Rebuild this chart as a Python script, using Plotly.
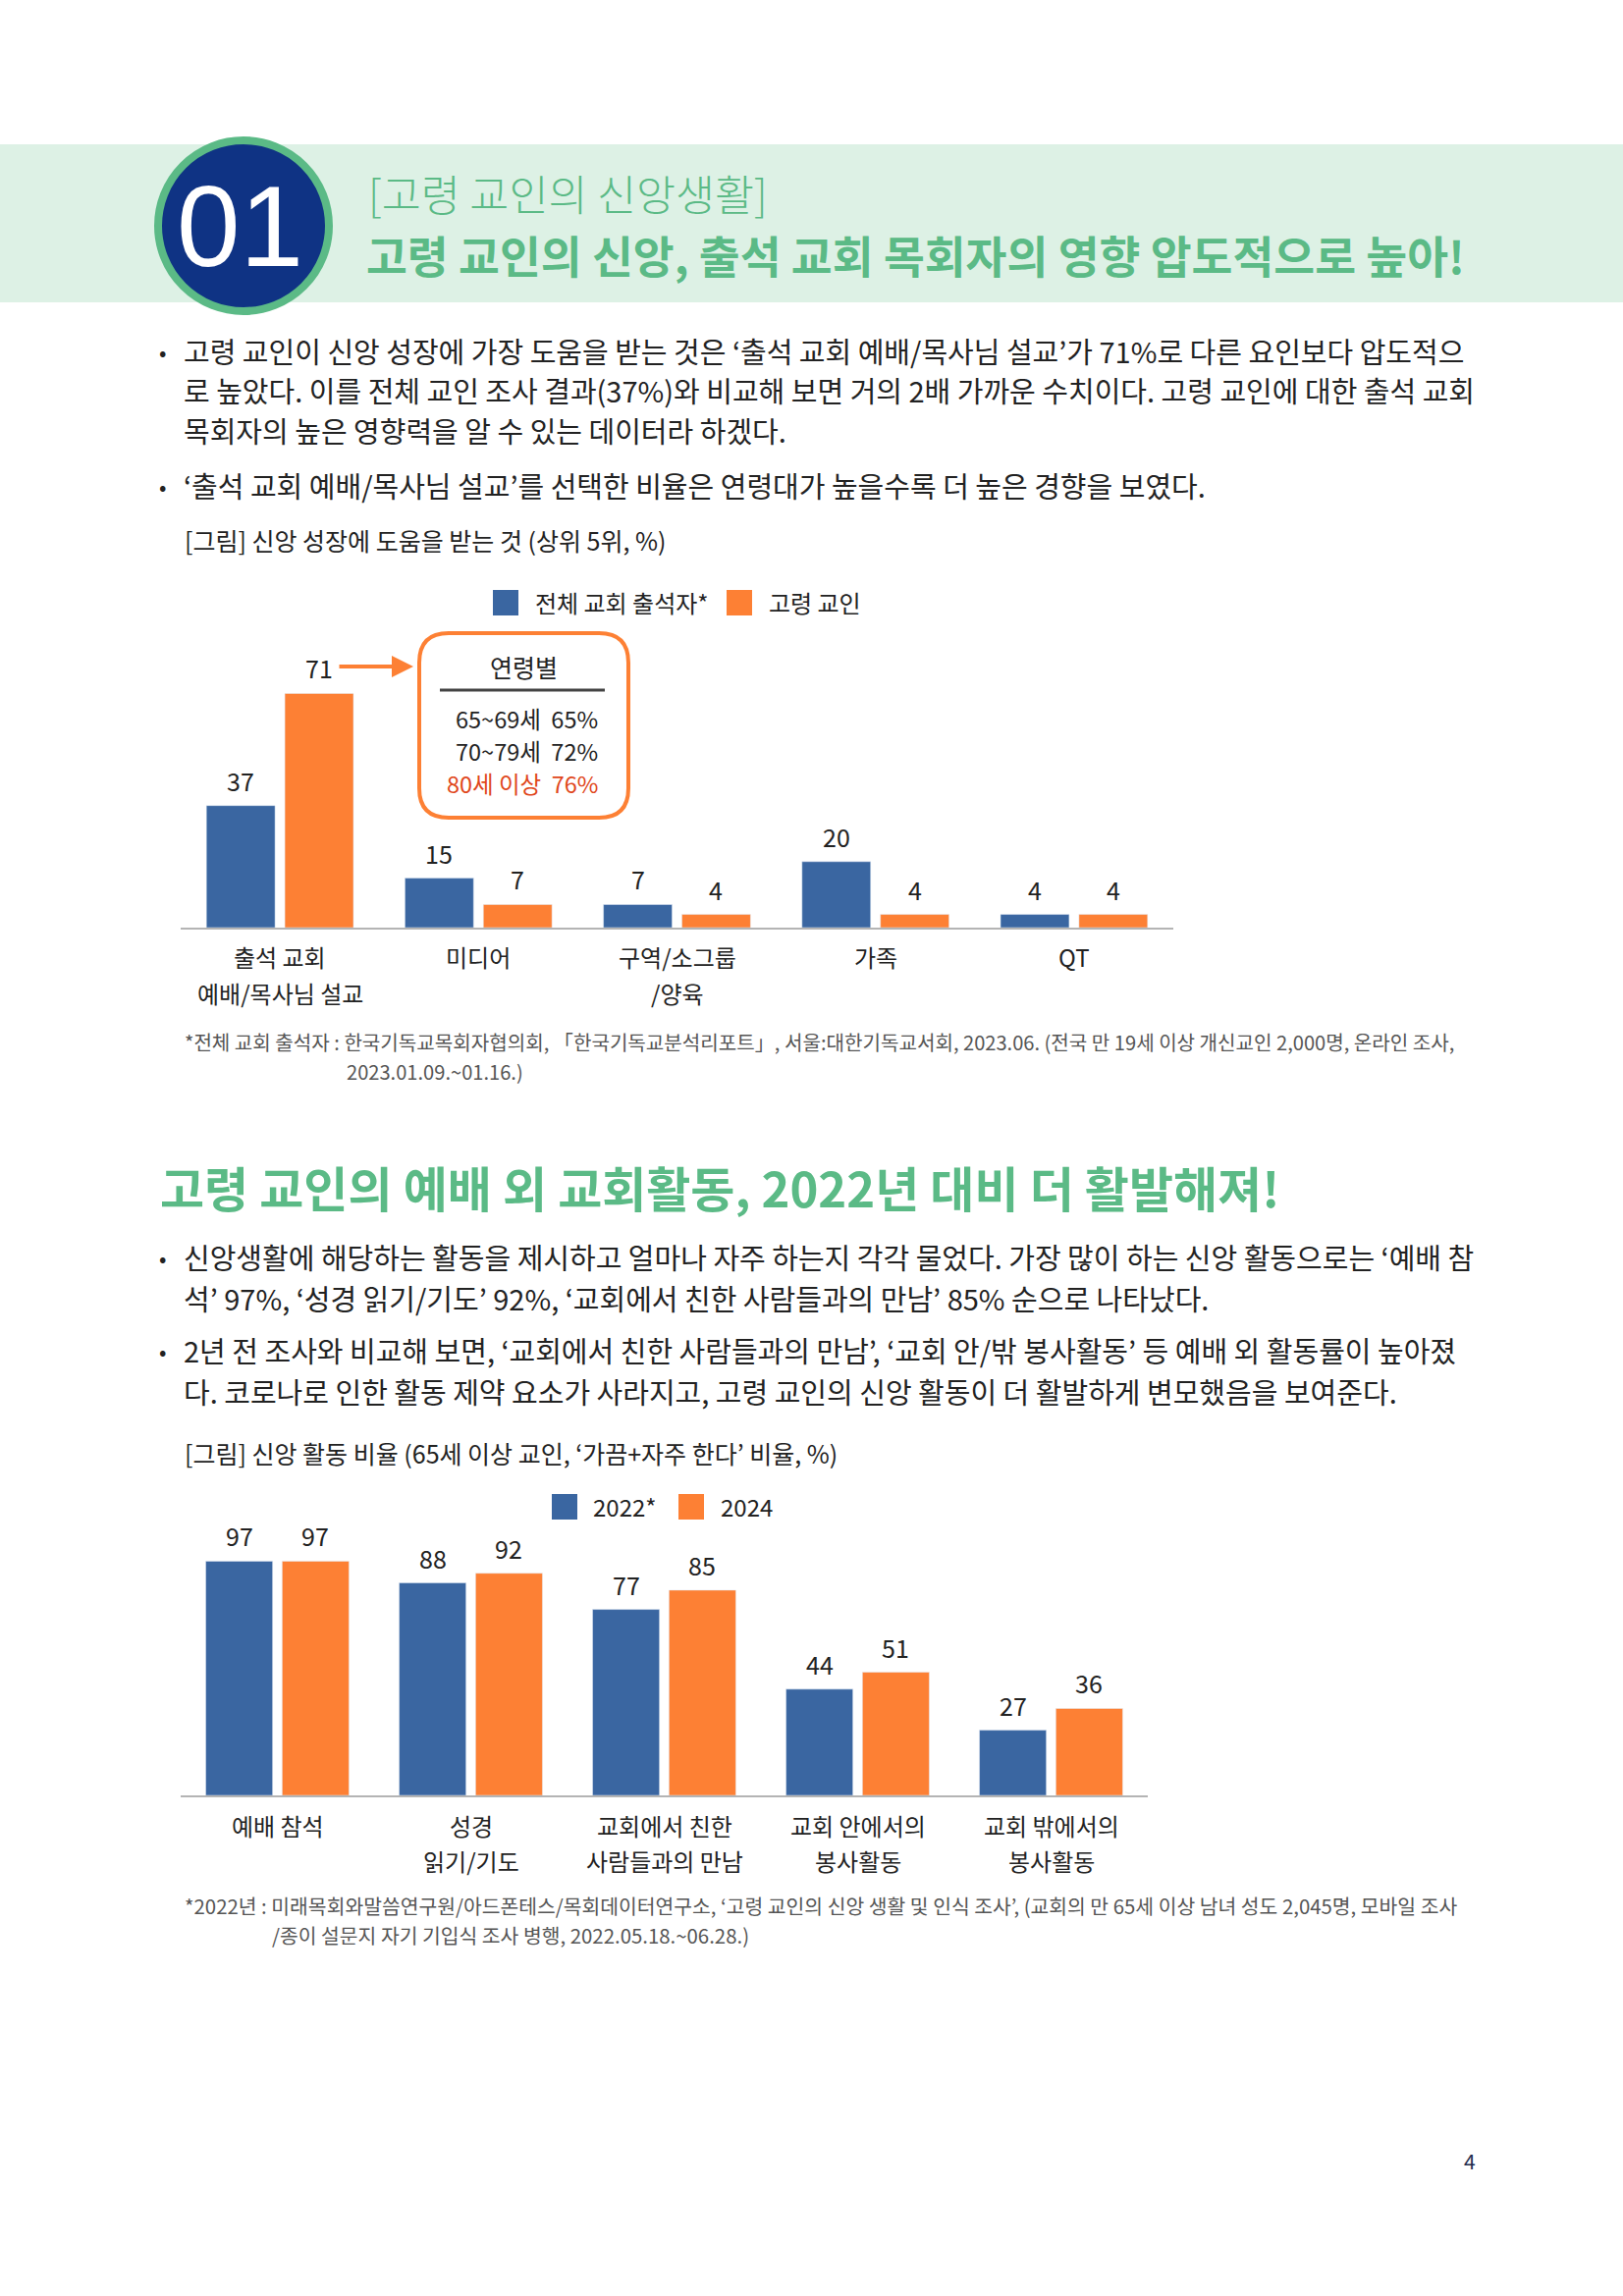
import plotly.graph_objects as go

W, H = 1653, 2339


def px(x):
    return x / W


def py(y):
    return 1 - y / H


# ---------------- data ----------------
cats1 = ["출석 교회\n예배/목사님 설교", "미디어", "구역/소그룹\n/양육", "가족", "QT"]
all_attendees = [37, 15, 7, 20, 4]
elderly = [71, 7, 4, 4, 4]
series1_names = ["전체 교회 출석자*", "고령 교인"]

age_groups = ["65~69세", "70~79세", "80세 이상"]
age_values = [65, 72, 76]

cats2 = ["예배 참석", "성경\n읽기/기도", "교회에서 친한\n사람들과의 만남", "교회 안에서의\n봉사활동", "교회 밖에서의\n봉사활동"]
y2022 = [97, 88, 77, 44, 27]
y2024 = [97, 92, 85, 51, 36]
series2_names = ["2022*", "2024"]

# ---------------- style ----------------
FONT = "Noto Sans CJK KR"
BLUE = "#3a66a1"
ORANGE = "#fd8034"
GREEN = "#5bba86"
BAND = "#ddf1e5"
NAVY = "#0f3384"
TXT = "#222222"
GRAY = "#555555"
RED = "#e0461a"

BODY = 29
CHART_TXT = 24
NOTE = 20.1

BARGAP = 0.21
GROUPGAP = 0.125

keys1 = [c.replace("\n", " ") for c in cats1]
keys2 = [c.replace("\n", " ") for c in cats2]

fig = go.Figure()
fig.add_trace(go.Bar(x=keys1, y=all_attendees, name=series1_names[0], marker_color=BLUE,
                     xaxis="x", yaxis="y", showlegend=False, hoverinfo="skip"))
fig.add_trace(go.Bar(x=keys1, y=elderly, name=series1_names[1], marker_color=ORANGE,
                     xaxis="x", yaxis="y", showlegend=False, hoverinfo="skip"))
fig.add_trace(go.Bar(x=keys2, y=y2022, name=series2_names[0], marker_color=BLUE,
                     xaxis="x2", yaxis="y2", showlegend=False, hoverinfo="skip"))
fig.add_trace(go.Bar(x=keys2, y=y2024, name=series2_names[1], marker_color=ORANGE,
                     xaxis="x2", yaxis="y2", showlegend=False, hoverinfo="skip"))

# chart geometry (pixels)
C1_L, C1_R, C1_B, C1_S, C1_MAX = 184, 1195, 945, 3.36, 80
C2_L, C2_R, C2_B, C2_S, C2_MAX = 184, 1169, 1829, 2.46, 110

ax_common = dict(type="category", showticklabels=False, showline=True, linecolor="#b4b4b4",
                 linewidth=2, showgrid=False, zeroline=False, ticks="", fixedrange=True)

fig.update_layout(
    width=W, height=H,
    margin=dict(l=0, r=0, t=0, b=0),
    paper_bgcolor="white", plot_bgcolor="rgba(0,0,0,0)",
    barmode="group", bargap=BARGAP, bargroupgap=GROUPGAP,
    font=dict(family=FONT, color=TXT),
    showlegend=False,
    xaxis=dict(domain=[px(C1_L), px(C1_R)], anchor="y", **ax_common),
    yaxis=dict(domain=[py(C1_B), py(C1_B - C1_MAX * C1_S)], range=[0, C1_MAX], visible=False,
               anchor="x", fixedrange=True),
    xaxis2=dict(domain=[px(C2_L), px(C2_R)], anchor="y2", **ax_common),
    yaxis2=dict(domain=[py(C2_B), py(C2_B - C2_MAX * C2_S)], range=[0, C2_MAX], visible=False,
                anchor="x2", fixedrange=True),
)

shapes = []
ann = []

# ---------------- header ----------------
shapes.append(dict(type="rect", xref="paper", yref="paper", x0=0, x1=1, y0=py(308), y1=py(147),
                   fillcolor=BAND, line=dict(width=0), layer="below"))
shapes.append(dict(type="circle", xref="paper", yref="paper", x0=px(161), x1=px(335),
                   y0=py(317), y1=py(143), fillcolor=NAVY, line=dict(color=GREEN, width=8)))
ann.append(dict(text="01", x=px(244), y=py(231), xref="paper", yref="paper", showarrow=False,
                xanchor="center", yanchor="middle",
                font=dict(family="Liberation Sans Narrow, Liberation Sans", size=116, color="white")))
ann.append(dict(text="[고령 교인의 신앙생활]", x=px(373), y=py(197), xref="paper", yref="paper",
                showarrow=False, xanchor="left", yanchor="middle",
                font=dict(family=FONT, size=43.5, color=GREEN, weight=300)))
ann.append(dict(text="고령 교인의 신앙, 출석 교회 목회자의 영향 압도적으로 높아!", x=px(371), y=py(259),
                xref="paper", yref="paper", showarrow=False, xanchor="left", yanchor="middle",
                font=dict(family=FONT, size=45.5, color=GREEN, weight=700)))


def text_line(t, x, y, size=BODY, color=TXT, weight=400):
    ann.append(dict(text=t, x=px(x), y=py(y), xref="paper", yref="paper", showarrow=False,
                    xanchor="left", yanchor="middle", font=dict(family=FONT, size=size, color=color,
                                                                weight=weight)))


def bullet(y):
    ann.append(dict(text="•", x=px(165), y=py(y), xref="paper", yref="paper", showarrow=False,
                    xanchor="center", yanchor="middle", font=dict(family=FONT, size=22, color=TXT)))


# ---------------- section 1 text ----------------
bullet(357)
text_line("고령 교인이 신앙 성장에 가장 도움을 받는 것은 ‘출석 교회 예배/목사님 설교’가 71%로 다른 요인보다 압도적으", 185, 357)
text_line("로 높았다. 이를 전체 교인 조사 결과(37%)와 비교해 보면 거의 2배 가까운 수치이다. 고령 교인에 대한 출석 교회", 185, 397)
text_line("목회자의 높은 영향력을 알 수 있는 데이터라 하겠다.", 185, 438)
bullet(494)
text_line("‘출석 교회 예배/목사님 설교’를 선택한 비율은 연령대가 높을수록 더 높은 경향을 보였다.", 185, 494)
text_line("[그림] 신앙 성장에 도움을 받는 것 (상위 5위, %)", 186, 550, size=25)

# legend 1
shapes.append(dict(type="rect", xref="paper", yref="paper", x0=px(502), x1=px(528), y0=py(627),
                   y1=py(601), fillcolor=BLUE, line=dict(width=0)))
text_line(series1_names[0], 543, 613, size=CHART_TXT)
shapes.append(dict(type="rect", xref="paper", yref="paper", x0=px(740), x1=px(766), y0=py(627),
                   y1=py(601), fillcolor=ORANGE, line=dict(width=0)))
text_line(series1_names[1], 781, 613, size=CHART_TXT)


def add_value_labels(keys, vals_a, vals_b, xa, ya, left, right):
    slot = (right - left) / len(keys) * (1 - BARGAP) / 2
    for k, a, b in zip(keys, vals_a, vals_b):
        for v, sh in ((a, -slot / 2), (b, slot / 2)):
            ann.append(dict(text=str(v), x=k, y=v, xref=xa, yref=ya, showarrow=False,
                            xanchor="center", yanchor="middle", xshift=sh, yshift=26,
                            font=dict(family=FONT, size=25, color=TXT)))


def add_cat_labels(keys, cats, xa, y1, y2):
    for k, c in zip(keys, cats):
        lines = c.split("\n")
        for i, line in enumerate(lines):
            ann.append(dict(text=line, x=k, y=py(y1 if i == 0 else y2), xref=xa, yref="paper",
                            showarrow=False, xanchor="center", yanchor="middle",
                            font=dict(family=FONT, size=CHART_TXT, color=TXT)))


add_value_labels(keys1, all_attendees, elderly, "x", "y", C1_L, C1_R)
add_cat_labels(keys1, cats1, "x", 975, 1011)

# age box
bx0, bx1, by0, by1, r = 427, 640, 645, 833, 30
pts = [
    ("M", bx0 + r, by0), ("L", bx1 - r, by0), ("Q", bx1, by0, bx1, by0 + r),
    ("L", bx1, by1 - r), ("Q", bx1, by1, bx1 - r, by1), ("L", bx0 + r, by1),
    ("Q", bx0, by1, bx0, by1 - r), ("L", bx0, by0 + r), ("Q", bx0, by0, bx0 + r, by0),
]
path = ""
for p in pts:
    cmd = p[0]
    coords = p[1:]
    seg = []
    for i in range(0, len(coords), 2):
        seg.append(f"{px(coords[i]):.5f},{py(coords[i + 1]):.5f}")
    path += cmd + " " + " ".join(seg) + " "
path += "Z"
shapes.append(dict(type="path", xref="paper", yref="paper", path=path, fillcolor="white",
                   line=dict(color=ORANGE, width=4)))
shapes.append(dict(type="line", xref="paper", yref="paper", x0=px(448), x1=px(616), y0=py(703),
                   y1=py(703), line=dict(color="#444444", width=3)))
ann.append(dict(text="연령별", x=px(533), y=py(679), xref="paper", yref="paper", showarrow=False,
                xanchor="center", yanchor="middle", font=dict(family=FONT, size=25, color=TXT)))
for i, (g, v) in enumerate(zip(age_groups, age_values)):
    col = RED if i == len(age_groups) - 1 else TXT
    ann.append(dict(text=f"{g}\u00a0 {v}%", x=px(611), y=py(732 + i * 33), xref="paper", yref="paper",
                    showarrow=False, xanchor="right", yanchor="middle",
                    font=dict(family=FONT, size=23.5, color=col)))
# arrow
ann.append(dict(text="", x=px(421), y=py(679), xref="paper", yref="paper", showarrow=True,
                ax=-77, ay=0, axref="pixel", ayref="pixel", arrowhead=2, arrowsize=1.1,
                arrowwidth=4, arrowcolor=ORANGE, standoff=0, startstandoff=0))

# footnote 1
text_line("*전체 교회 출석자 : 한국기독교목회자협의회, 「한국기독교분석리포트」, 서울:대한기독교서회, 2023.06. (전국 만 19세 이상 개신교인 2,000명, 온라인 조사,",
          186, 1061, size=NOTE, color=GRAY)
text_line("2023.01.09.~01.16.)", 351, 1091, size=NOTE, color=GRAY)

# ---------------- section 2 ----------------
text_line("고령 교인의 예배 외 교회활동, 2022년 대비 더 활발해져!", 161, 1208, size=49, color=GREEN, weight=700)
bullet(1280)
text_line("신앙생활에 해당하는 활동을 제시하고 얼마나 자주 하는지 각각 물었다. 가장 많이 하는 신앙 활동으로는 ‘예배 참", 185, 1280)
text_line("석’ 97%, ‘성경 읽기/기도’ 92%, ‘교회에서 친한 사람들과의 만남’ 85% 순으로 나타났다.", 185, 1322)
bullet(1375)
text_line("2년 전 조사와 비교해 보면, ‘교회에서 친한 사람들과의 만남’, ‘교회 안/밖 봉사활동’ 등 예배 외 활동률이 높아졌", 185, 1375)
text_line("다. 코로나로 인한 활동 제약 요소가 사라지고, 고령 교인의 신앙 활동이 더 활발하게 변모했음을 보여준다.", 185, 1417)
text_line("[그림] 신앙 활동 비율 (65세 이상 교인, ‘가끔+자주 한다’ 비율, %)", 186, 1480, size=25)

# legend 2
shapes.append(dict(type="rect", xref="paper", yref="paper", x0=px(562), x1=px(588), y0=py(1548),
                   y1=py(1522), fillcolor=BLUE, line=dict(width=0)))
text_line(series2_names[0], 602, 1534, size=CHART_TXT)
shapes.append(dict(type="rect", xref="paper", yref="paper", x0=px(691), x1=px(717), y0=py(1548),
                   y1=py(1522), fillcolor=ORANGE, line=dict(width=0)))
text_line(series2_names[1], 732, 1534, size=CHART_TXT)

add_value_labels(keys2, y2022, y2024, "x2", "y2", C2_L, C2_R)
add_cat_labels(keys2, cats2, "x2", 1859, 1895)

text_line("*2022년 : 미래목회와말씀연구원/아드폰테스/목회데이터연구소, ‘고령 교인의 신앙 생활 및 인식 조사’, (교회의 만 65세 이상 남녀 성도 2,045명, 모바일 조사",
          186, 1941, size=NOTE + 0.3, color=GRAY)
text_line("/종이 설문지 자기 기입식 조사 병행, 2022.05.18.~06.28.)", 275, 1971, size=NOTE + 0.3, color=GRAY)

# page number
ann.append(dict(text="4", x=px(1497), y=py(2201), xref="paper", yref="paper", showarrow=False,
                xanchor="center", yanchor="middle", font=dict(family=FONT, size=21, color="#1f2d4d")))

fig.update_layout(shapes=shapes, annotations=ann)
fig.write_html("out.html", config={"displayModeBar": False},
               post_script="document.body.style.margin='0';document.body.style.padding='0';")
